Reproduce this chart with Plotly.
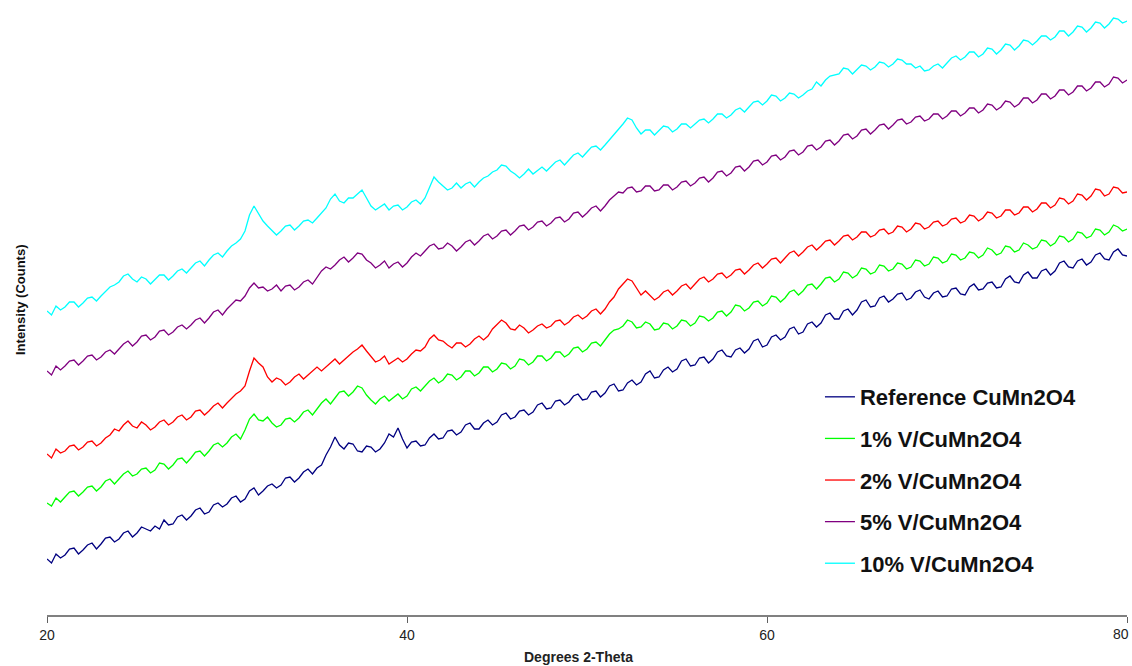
import numpy as np
import plotly.graph_objects as go

# 2-theta scan positions (degrees), 0.25 degree steps
two_theta = np.arange(20.0, 80.0 + 0.125, 0.25)

series_names = [
    "Reference CuMn2O4",
    "1% V/CuMn2O4",
    "2% V/CuMn2O4",
    "5% V/CuMn2O4",
    "10% V/CuMn2O4",
]
series_colors = ["#000080", "#00ff00", "#ff0000", "#800080", "#00ffff"]

# Intensity (counts) for each sample
reference_counts = [
    56, 52, 61, 57, 60, 66, 67, 61, 65, 70, 72, 66, 71, 77, 78, 73, 76, 82, 84, 78,
    82, 88, 86, 84, 89, 86, 95, 90, 91, 98, 100, 95, 99, 105, 107, 101, 103, 110, 112, 108,
    111, 117, 119, 113, 116, 124, 127, 120, 124, 129, 131, 127, 130, 137, 138, 133, 137, 143, 146, 141,
    147, 150, 160, 168, 178, 170, 166, 172, 171, 164, 163, 169, 168, 163, 166, 172, 181, 178, 187, 176,
    167, 173, 174, 169, 170, 177, 181, 176, 177, 184, 185, 180, 183, 190, 192, 186, 186, 192, 195, 190,
    193, 200, 202, 196, 198, 204, 205, 200, 203, 210, 212, 206, 207, 214, 215, 210, 213, 219, 221, 215,
    216, 223, 224, 218, 222, 229, 231, 224, 225, 232, 235, 230, 233, 241, 244, 237, 238, 245, 248, 243,
    246, 254, 256, 249, 250, 257, 258, 252, 256, 263, 265, 259, 258, 265, 267, 262, 266, 274, 276, 268,
    270, 278, 280, 275, 278, 286, 288, 281, 283, 291, 293, 288, 292, 300, 302, 296, 296, 304, 306, 300,
    305, 313, 315, 308, 309, 317, 319, 313, 316, 321, 322, 315, 317, 323, 325, 318, 316, 322, 324, 318,
    319, 326, 327, 321, 320, 328, 331, 325, 326, 332, 333, 327, 328, 336, 339, 333, 332, 340, 343, 337,
    337, 344, 346, 340, 344, 352, 354, 348, 347, 354, 356, 350, 353, 360, 362, 356, 355, 363, 366, 360,
    359,
]
v1_counts = [
    112, 109, 117, 113, 118, 123, 124, 119, 123, 128, 129, 124, 128, 134, 136, 131, 136, 141, 144, 139,
    141, 146, 147, 142, 145, 152, 151, 146, 150, 156, 157, 152, 157, 163, 164, 159, 164, 170, 172, 168,
    172, 178, 181, 176, 185, 196, 201, 195, 194, 198, 192, 188, 190, 196, 197, 193, 197, 203, 205, 200,
    206, 212, 216, 211, 217, 223, 224, 219, 223, 229, 227, 220, 215, 211, 216, 219, 214, 218, 221, 216,
    219, 226, 228, 224, 229, 234, 237, 232, 235, 241, 240, 235, 238, 244, 244, 239, 242, 248, 248, 243,
    246, 252, 251, 246, 249, 256, 255, 250, 253, 259, 259, 254, 257, 263, 263, 258, 261, 267, 268, 263,
    266, 272, 273, 269, 275, 281, 285, 286, 289, 295, 293, 287, 288, 293, 291, 285, 286, 292, 291, 286,
    289, 295, 294, 289, 292, 299, 298, 294, 297, 303, 304, 299, 303, 310, 309, 304, 307, 313, 314, 309,
    312, 319, 318, 313, 317, 323, 325, 320, 324, 330, 331, 326, 331, 337, 338, 333, 336, 343, 342, 337,
    340, 347, 346, 341, 343, 350, 349, 344, 346, 352, 351, 346, 348, 355, 354, 349, 351, 358, 357, 352,
    354, 361, 360, 355, 357, 363, 362, 357, 360, 367, 365, 360, 362, 369, 368, 363, 365, 372, 370, 366,
    368, 375, 374, 369, 372, 379, 378, 373, 376, 383, 382, 377, 379, 386, 385, 380, 383, 390, 388, 384,
    386,
]
v2_counts = [
    161, 157, 166, 162, 164, 169, 170, 165, 168, 173, 174, 169, 172, 177, 180, 186, 184, 190, 194, 189,
    187, 193, 190, 185, 188, 193, 195, 190, 193, 198, 200, 195, 198, 204, 205, 200, 204, 209, 212, 207,
    212, 217, 221, 224, 229, 244, 257, 252, 248, 238, 233, 237, 235, 230, 233, 238, 241, 236, 240, 245,
    248, 244, 248, 253, 256, 251, 255, 260, 263, 266, 270, 264, 258, 253, 255, 259, 251, 254, 257, 253,
    256, 261, 265, 264, 268, 276, 280, 275, 274, 270, 267, 272, 272, 268, 271, 276, 279, 275, 279, 286,
    290, 295, 292, 286, 285, 290, 287, 282, 285, 289, 291, 287, 289, 294, 295, 290, 293, 298, 300, 296,
    299, 304, 306, 301, 306, 313, 318, 326, 331, 336, 334, 327, 320, 324, 320, 315, 318, 323, 325, 320,
    324, 329, 331, 326, 331, 336, 338, 333, 336, 341, 342, 337, 340, 345, 346, 341, 345, 350, 352, 347,
    351, 356, 357, 352, 357, 362, 364, 359, 363, 368, 370, 365, 369, 374, 375, 370, 374, 379, 380, 375,
    378, 383, 383, 378, 380, 385, 386, 381, 383, 389, 388, 383, 386, 392, 391, 386, 388, 393, 394, 389,
    391, 396, 397, 392, 394, 400, 399, 394, 397, 403, 402, 397, 399, 405, 405, 400, 402, 408, 408, 403,
    406, 412, 412, 407, 410, 417, 416, 411, 414, 421, 420, 415, 419, 426, 425, 419, 421, 428, 427, 422,
    423,
]
v5_counts = [
    244, 240, 249, 245, 249, 254, 255, 250, 254, 259, 260, 255, 258, 263, 265, 261, 266, 271, 274, 269,
    273, 279, 280, 275, 278, 284, 285, 280, 283, 288, 290, 286, 290, 295, 297, 292, 297, 303, 305, 300,
    306, 311, 315, 314, 319, 327, 332, 327, 328, 324, 326, 330, 324, 329, 330, 325, 328, 333, 335, 331,
    337, 344, 348, 346, 350, 355, 358, 353, 357, 362, 361, 355, 352, 347, 350, 354, 347, 351, 353, 348,
    352, 358, 362, 359, 364, 369, 371, 366, 367, 372, 369, 364, 368, 373, 375, 370, 374, 379, 381, 376,
    379, 384, 385, 380, 384, 389, 390, 385, 388, 393, 394, 389, 392, 397, 398, 393, 396, 402, 403, 398,
    402, 407, 409, 404, 409, 415, 419, 423, 422, 427, 428, 423, 424, 429, 429, 424, 425, 430, 430, 425,
    428, 433, 434, 429, 432, 437, 438, 433, 437, 443, 444, 439, 442, 448, 449, 444, 448, 454, 455, 450,
    453, 459, 460, 455, 458, 464, 465, 460, 463, 469, 470, 465, 468, 474, 475, 470, 474, 480, 481, 476,
    479, 485, 486, 481, 485, 490, 491, 486, 490, 495, 496, 491, 493, 498, 499, 494, 496, 501, 501, 496,
    499, 504, 504, 499, 502, 507, 507, 502, 505, 511, 510, 505, 508, 514, 513, 508, 511, 517, 517, 512,
    515, 521, 521, 516, 519, 525, 525, 520, 523, 529, 529, 524, 527, 533, 533, 528, 531, 538, 537, 532,
    535,
]
v10_counts = [
    304, 300, 309, 305, 308, 313, 313, 308, 312, 317, 318, 314, 319, 324, 328, 330, 333, 339, 341, 336,
    333, 338, 336, 331, 335, 340, 340, 335, 339, 344, 346, 342, 347, 352, 354, 349, 355, 360, 362, 358,
    364, 369, 372, 376, 384, 400, 409, 402, 394, 389, 385, 380, 384, 389, 390, 385, 389, 394, 395, 392,
    397, 402, 407, 416, 421, 414, 412, 417, 417, 421, 425, 417, 409, 405, 408, 411, 405, 409, 410, 405,
    408, 413, 415, 411, 417, 428, 438, 433, 429, 425, 427, 432, 427, 431, 433, 428, 433, 437, 439, 443,
    445, 450, 449, 444, 441, 437, 441, 446, 441, 445, 448, 444, 449, 453, 455, 450, 455, 460, 462, 458,
    463, 468, 469, 465, 470, 475, 480, 486, 491, 497, 495, 487, 481, 485, 485, 480, 484, 489, 488, 483,
    486, 491, 491, 487, 491, 495, 496, 492, 496, 501, 501, 497, 500, 505, 507, 503, 508, 513, 514, 510,
    514, 520, 519, 514, 517, 522, 521, 517, 520, 524, 526, 533, 529, 535, 539, 540, 541, 547, 546, 541,
    545, 550, 549, 545, 548, 553, 552, 548, 551, 556, 555, 551, 551, 547, 549, 544, 545, 549, 551, 547,
    552, 557, 559, 555, 558, 563, 563, 558, 561, 567, 566, 561, 565, 571, 570, 565, 569, 575, 574, 570,
    574, 579, 579, 575, 578, 584, 584, 579, 583, 589, 588, 583, 587, 593, 592, 587, 591, 597, 596, 592,
    594,
]

all_counts = [reference_counts, v1_counts, v2_counts, v5_counts, v10_counts]
for counts in all_counts:
    assert len(counts) == len(two_theta), (len(counts), len(two_theta))

x_ticks = [20, 40, 60, 80]
tick_font = dict(family="Liberation Sans Narrow, Arial Narrow, Liberation Sans, sans-serif",
                 size=14, color="#222222")

fig = go.Figure()
for i, (name, color, counts) in enumerate(zip(series_names, series_colors, all_counts)):
    fig.add_trace(go.Scatter(
        x=two_theta,
        y=counts,
        mode="lines",
        name=name,
        legendgroup=f"g{i}",
        line=dict(color=color, width=1.3),
    ))

# the last tick label sits at the right edge of the figure, so it is drawn
# right-aligned to the tick instead of centred on it
fig.update_layout(
    width=1132,
    height=666,
    margin=dict(l=47, r=5, t=10, b=51, autoexpand=False),
    paper_bgcolor="white",
    plot_bgcolor="white",
    showlegend=True,
    legend=dict(
        x=0.7157, xanchor="left",
        y=0.395, yanchor="top",
        bgcolor="rgba(0,0,0,0)",
        borderwidth=0,
        traceorder="grouped",
        tracegroupgap=10,
        font=dict(family="Liberation Sans, Arial, sans-serif", size=22, color="#111111", weight="bold"),
        itemwidth=30,
    ),
    xaxis=dict(
        range=[20, 80],
        tickvals=x_ticks,
        ticktext=[str(t) for t in x_ticks[:-1]] + [""],
        showgrid=False,
        zeroline=False,
        showline=True,
        linecolor="#808080",
        linewidth=2,
        ticks="outside",
        ticklen=6,
        tickwidth=1,
        tickcolor="#606060",
        automargin=False,
        tickfont=tick_font,
    ),
    yaxis=dict(
        range=[0, 605],
        showgrid=False,
        zeroline=False,
        showline=False,
        showticklabels=False,
        ticks="",
        automargin=False,
    ),
    annotations=[
        dict(
            text=str(x_ticks[-1]),
            xref="x", yref="paper",
            x=x_ticks[-1], y=0,
            xanchor="right", yanchor="middle",
            xshift=4, yshift=-19,
            showarrow=False,
            font=tick_font,
        ),
        dict(
            text="Degrees 2-Theta",
            xref="paper", yref="paper",
            x=(578 - 47) / 1080, y=-0.07,
            xanchor="center", yanchor="middle",
            showarrow=False,
            font=dict(tick_font, weight="bold"),
        ),
        dict(
            text="Intensity (Counts)",
            xref="paper", yref="paper",
            x=-0.0250, y=(615 - 300) / 605,
            xanchor="center", yanchor="middle",
            textangle=-90,
            showarrow=False,
            font=dict(family="Liberation Sans, Arial, sans-serif", size=13, color="#111111",
                      weight="bold"),
        ),
    ],
)

fig.write_html("out.html")
